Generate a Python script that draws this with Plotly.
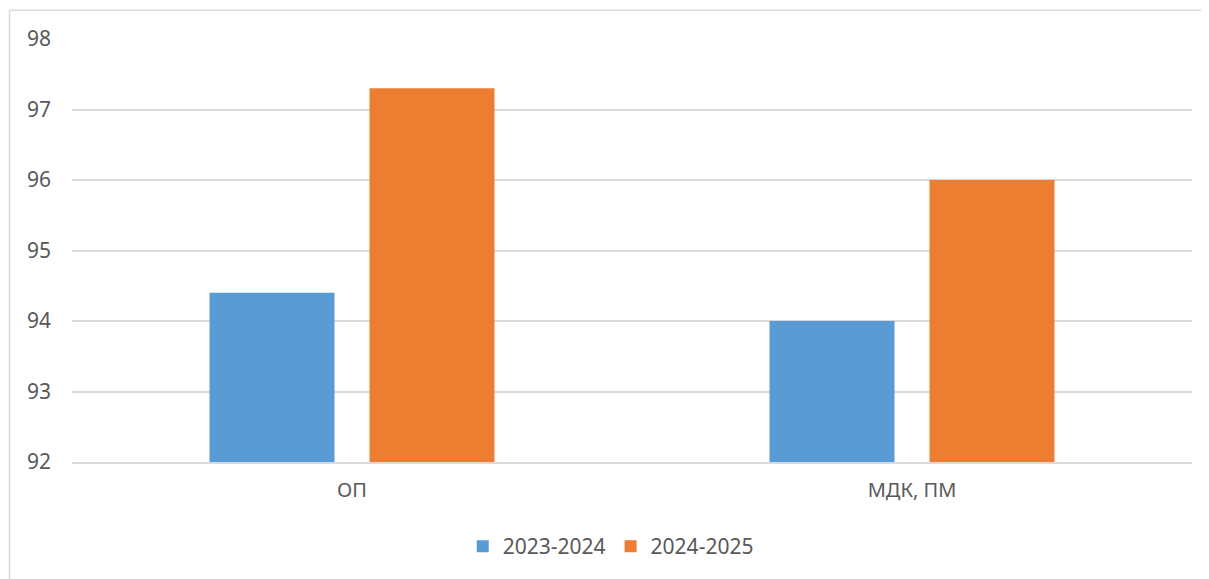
import plotly.graph_objects as go

categories = ["ОП", "МДК, ПМ"]
series_names = ["2023-2024", "2024-2025"]
values_2023 = [94.4, 94.0]
values_2024 = [97.3, 96.0]
colors = ["#5B9BD5", "#ED7D31"]
y_ticks = [92, 93, 94, 95, 96, 97, 98]

FONT = "Noto Sans, Open Sans, sans-serif"

fig = go.Figure()
fig.add_trace(go.Bar(name=series_names[0], x=categories, y=values_2023,
                     marker=dict(color=colors[0], line=dict(width=0))))
fig.add_trace(go.Bar(name=series_names[1], x=categories, y=values_2024,
                     marker=dict(color=colors[1], line=dict(width=0))))

border = dict(color="#d9d9d9", width=1.5)
fig.update_layout(
    width=1201, height=571,
    margin=dict(l=64, r=17, t=31, b=108),
    paper_bgcolor="white", plot_bgcolor="white",
    barmode="group", bargap=0.4286, bargroupgap=0.21875,
    font=dict(family=FONT, size=20, color="#595959"),
    showlegend=True,
    legend=dict(orientation="h", x=0.481, xanchor="center", y=-0.2, yanchor="middle",
                font=dict(size=21, color="#595959"), itemwidth=30),
    xaxis=dict(showline=True, linecolor="#d9d9d9", linewidth=1.5, showgrid=False,
               ticks="", ticklabelstandoff=9, tickfont=dict(size=20, color="#595959")),
    yaxis=dict(range=[92, 98], tickvals=y_ticks, showgrid=True, gridcolor="#d9d9d9",
               gridwidth=1.5, zeroline=False, ticks="", ticklabelstandoff=20,
               tickfont=dict(size=21, color="#595959")),
    shapes=[
        dict(type="line", xref="paper", yref="paper", x0=-0.0558, x1=1.06,
             y0=1.068, y1=1.068, line=border, layer="below"),
        dict(type="line", xref="paper", yref="paper", x0=-0.0558, x1=-0.0558,
             y0=-0.3, y1=1.068, line=border, layer="below"),
    ],
)

fig.write_html("out.html")
